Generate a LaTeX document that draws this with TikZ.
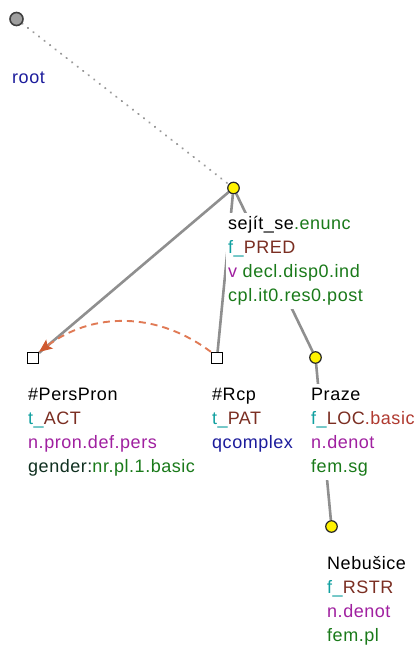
\documentclass[tikz,border=0pt]{standalone}
\usepackage{fontspec}
\setmainfont{Liberation Sans}[LetterSpace=3]
\usetikzlibrary{arrows.meta,backgrounds}
\definecolor{cblue}{HTML}{1C1C9C}
\definecolor{cteal}{HTML}{10A0A0}
\definecolor{cbrown}{HTML}{7B2E22}
\definecolor{cbasic}{HTML}{B03A30}
\definecolor{cmag}{HTML}{A020A0}
\definecolor{cgreen}{HTML}{1A7A1A}
\definecolor{cdark}{HTML}{103020}
\definecolor{cedge}{HTML}{8F8F8F}
\definecolor{ccoref}{HTML}{E07A55}
\definecolor{ccoreftip}{HTML}{D05A30}
\begin{document}
\begin{tikzpicture}[x=1pt,y=-1pt,
  lab/.style={anchor=base west, fill=white, inner xsep=2pt, inner ysep=0pt,
    text height=16pt, text depth=8pt, font=\fontsize{18}{24}\selectfont},
  rootnode/.style={circle, minimum size=13pt, inner sep=0pt, fill=gray!75, draw=black!75, line width=1.6pt},
  yellownode/.style={circle, minimum size=11.5pt, inner sep=0pt, fill=yellow, draw=black!85, line width=1.2pt},
  sqnode/.style={rectangle, minimum size=11pt, inner sep=0pt, fill=white, draw=black, line width=1.2pt},
  treeedge/.style={draw=cedge, line width=2.6pt},
  rootedge/.style={draw=gray!80, line width=2pt, line cap=round, dash pattern=on 0.5pt off 6.5pt},
  corefedge/.style={draw=ccoref, line width=1.9pt, dash pattern=on 7pt off 5pt,
    -{Stealth[length=13pt,width=11pt,color=ccoreftip,inset=2.5pt]}}
]
\useasboundingbox (0,0) rectangle (419,646);

% shape nodes
\node[rootnode] (root) at (16.5,19) {};
\node[yellownode] (sej) at (233.5,188) {};
\node[sqnode] (pp) at (33,358) {};
\node[sqnode] (rcp) at (217,358) {};
\node[yellownode] (praze) at (315.5,357.5) {};
\node[yellownode] (neb) at (331.5,526.5) {};

% edges on background
\begin{scope}[on background layer]
\draw[rootedge] (root) -- (sej);
\draw[treeedge] (sej) -- (pp);
\draw[treeedge] (sej) -- (rcp);
\draw[treeedge] (sej) -- (praze);
\draw[treeedge] (praze) -- (neb);
\end{scope}

% labels
\node[lab] (rootL1) at (10,83) {\textcolor{cblue}{root}};

\node[lab] (sejL1) at (226,229) {sejít\_se\textcolor{cgreen}{.enunc}};
\node[lab] (sejL2) at (226,253) {\textcolor{cteal}{f\_}\textcolor{cbrown}{PRED}};
\node[lab] (sejL3) at (226,277) {\textcolor{cmag}{v} \textcolor{cgreen}{decl.disp0.ind}};
\node[lab] (sejL4) at (226,301) {\textcolor{cgreen}{cpl.it0.res0.post}};

\node[lab] (ppL1) at (26,400) {\#PersPron};
\node[lab] (ppL2) at (26,424) {\textcolor{cteal}{t\_}\textcolor{cbrown}{ACT}};
\node[lab] (ppL3) at (26,448) {\textcolor{cmag}{n.pron.def.pers}};
\node[lab] (ppL4) at (26,472) {\textcolor{cdark}{gender:}\textcolor{cgreen}{nr.pl.1.basic}};

\node[lab] (rcpL1) at (210,400) {\#Rcp};
\node[lab] (rcpL2) at (210,424) {\textcolor{cteal}{t\_}\textcolor{cbrown}{PAT}};
\node[lab] (rcpL3) at (210,448) {\textcolor{cblue}{qcomplex}};

\node[lab] (prL1) at (309,400) {Praze};
\node[lab] (prL2) at (309,424) {\textcolor{cteal}{f\_}\textcolor{cbrown}{LOC}\textcolor{cbasic}{.basic}};
\node[lab] (prL3) at (309,448) {\textcolor{cmag}{n.denot}};
\node[lab] (prL4) at (309,472) {\textcolor{cgreen}{fem.sg}};

\node[lab] (nbL1) at (325,569) {Nebušice};
\node[lab] (nbL2) at (325,593) {\textcolor{cteal}{f\_}\textcolor{cbrown}{RSTR}};
\node[lab] (nbL3) at (325,617) {\textcolor{cmag}{n.denot}};
\node[lab] (nbL4) at (325,641) {\textcolor{cgreen}{fem.pl}};

% coreference arrow
\draw[corefedge] (rcp.north west) to[out=143,in=37] (pp.north east);
\end{tikzpicture}
\end{document}
